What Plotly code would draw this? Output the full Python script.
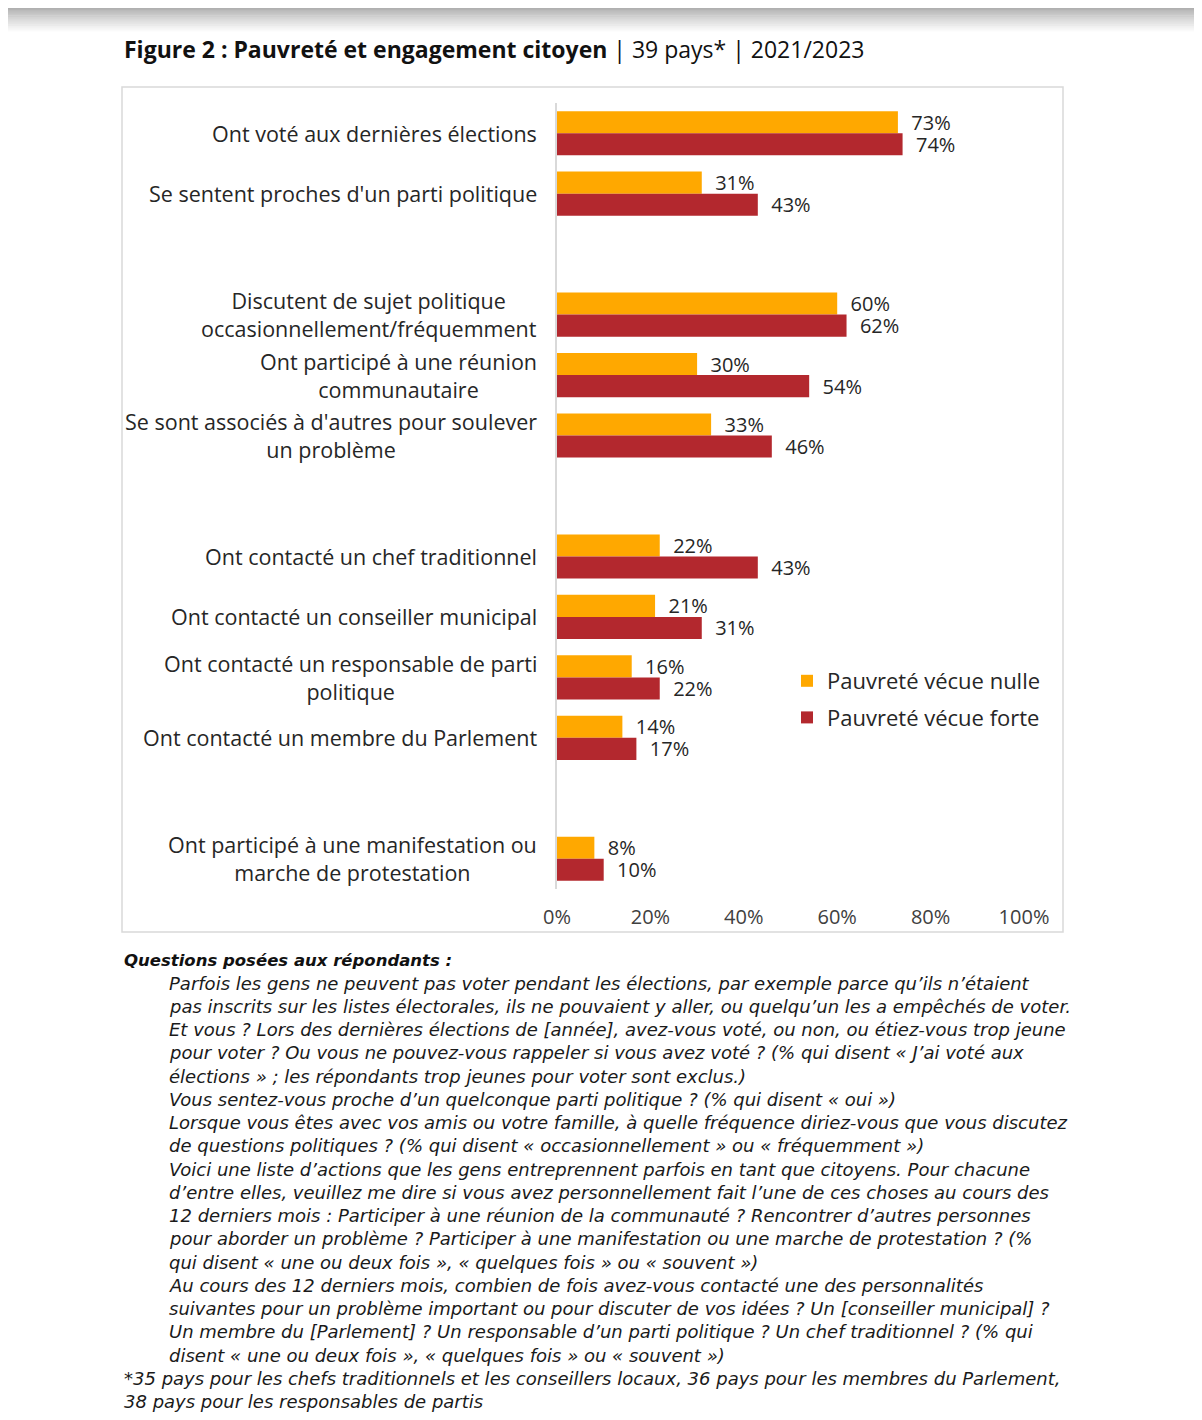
import plotly.graph_objects as go

# ---------------- data ----------------
categories = [
    "Ont voté aux dernières élections",
    "Se sentent proches d'un parti politique",
    "Discutent de sujet politique<br>occasionnellement/fréquemment",
    "Ont participé à une réunion<br>communautaire",
    "Se sont associés à d'autres pour soulever<br>un problème",
    "Ont contacté un chef traditionnel",
    "Ont contacté un conseiller municipal",
    "Ont contacté un responsable de parti<br>politique",
    "Ont contacté un membre du Parlement",
    "Ont participé à une manifestation ou<br>marche de protestation",
]
groups = [1, 1, 2, 2, 2, 3, 3, 3, 3, 4]
pauvrete_nulle = [73, 31, 60, 30, 33, 22, 21, 16, 14, 8]
pauvrete_forte = [74, 43, 62, 54, 46, 43, 31, 22, 17, 10]
series_names = ["Pauvreté vécue nulle", "Pauvreté vécue forte"]
x_ticks = [0, 20, 40, 60, 80, 100]

title_bold = "Figure 2 : Pauvreté et engagement citoyen"
title_rest = " | 39 pays* | 2021/2023"
notes_header = "Questions posées aux répondants :"
notes_body = [
    "Parfois les gens ne peuvent pas voter pendant les élections, par exemple parce qu’ils n’étaient",
    "pas inscrits sur les listes électorales, ils ne pouvaient y aller, ou quelqu’un les a empêchés de voter.",
    "Et vous ? Lors des dernières élections de [année], avez-vous voté, ou non, ou étiez-vous trop jeune",
    "pour voter ? Ou vous ne pouvez-vous rappeler si vous avez voté ? (% qui disent « J’ai voté aux",
    "élections » ; les répondants trop jeunes pour voter sont exclus.)",
    "Vous sentez-vous proche d’un quelconque parti politique ? (% qui disent « oui »)",
    "Lorsque vous êtes avec vos amis ou votre famille, à quelle fréquence diriez-vous que vous discutez",
    "de questions politiques ? (% qui disent « occasionnellement » ou « fréquemment »)",
    "Voici une liste d’actions que les gens entreprennent parfois en tant que citoyens. Pour chacune",
    "d’entre elles, veuillez me dire si vous avez personnellement fait l’une de ces choses au cours des",
    "12 derniers mois : Participer à une réunion de la communauté ? Rencontrer d’autres personnes",
    "pour aborder un problème ? Participer à une manifestation ou une marche de protestation ? (%",
    "qui disent « une ou deux fois », « quelques fois » ou « souvent »)",
    "Au cours des 12 derniers mois, combien de fois avez-vous contacté une des personnalités",
    "suivantes pour un problème important ou pour discuter de vos idées ? Un [conseiller municipal] ?",
    "Un membre du [Parlement] ? Un responsable d’un parti politique ? Un chef traditionnel ? (% qui",
    "disent « une ou deux fois », « quelques fois » ou « souvent »)",
]
notes_footer = [
    "*35 pays pour les chefs traditionnels et les conseillers locaux, 36 pays pour les membres du Parlement,",
    "38 pays pour les responsables de partis",
]

# ---------------- styling ----------------
FONT = "Open Sans"
NOTE_FONT = "DejaVu Sans"
ORANGE = "#FFA800"
RED = "#B3282E"
TXT = "#262626"
OFF = 8                      # default body margin of the page
FW, FH = 1202 - 2 * OFF, 1420 - 2 * OFF
PL, PR, PT, PB = 557, 1024, 103, 889  # plot-area box in page pixels


def px(x):
    return (x - PL) / (PR - PL)


def py(y):
    return (PB - y) / (PB - PT)


# build the axis with blank spacer slots between groups
axis_cats, vals_n, vals_f = [], [], []
spacer = 0
for i, c in enumerate(categories):
    if i > 0 and groups[i] != groups[i - 1]:
        spacer += 1
        axis_cats.append(" " * spacer)
        vals_n.append(None)
        vals_f.append(None)
    axis_cats.append(c)
    vals_n.append(pauvrete_nulle[i])
    vals_f.append(pauvrete_forte[i])


def labels(vals):
    return ["" if v is None else f"\u00a0\u00a0{v}%" for v in vals]


fig = go.Figure()
for name, vals, col in [(series_names[0], vals_n, ORANGE), (series_names[1], vals_f, RED)]:
    fig.add_trace(go.Bar(
        y=axis_cats, x=vals, name=name, orientation="h",
        marker=dict(color=col, line=dict(width=0)),
        text=labels(vals), textposition="outside", constraintext="none",
        textfont=dict(family=FONT, size=20, color=TXT),
        cliponaxis=False, legendgroup=name, hoverinfo="skip",
    ))

fig.update_layout(
    width=FW, height=FH,
    margin=dict(l=PL - OFF, r=FW - (PR - OFF), t=PT - OFF, b=FH - (PB - OFF), pad=0),
    paper_bgcolor="white", plot_bgcolor="white",
    barmode="group", bargap=0.27, bargroupgap=0,
    font=dict(family=FONT, color=TXT),
    showlegend=True,
    legend=dict(
        x=px(787), y=py(660), xanchor="left", yanchor="top",
        font=dict(family=FONT, size=22, color=TXT),
        bgcolor="rgba(0,0,0,0)", tracegroupgap=5,
    ),
    xaxis=dict(
        range=[0, 100], tickmode="array", tickvals=x_ticks,
        ticktext=[f"{v}%" for v in x_ticks],
        showgrid=False, zeroline=False, showline=False, ticks="",
        tickfont=dict(family=FONT, size=20, color="#404040"),
        ticklabelstandoff=14, fixedrange=True,
    ),
    yaxis=dict(
        categoryorder="array", categoryarray=axis_cats, type="category",
        range=[len(axis_cats) - 0.5, -0.5],
        showticklabels=False, ticks="", showgrid=False, zeroline=False,
        showline=True, linecolor="#d9d9d9", linewidth=2,
    ),
)

shapes = []
# top grey shade of the screenshot
n_bands = 14
for k in range(n_bands):
    g = int(176 + (255 - 176) * (k / (n_bands - 1)) ** 0.8)
    shapes.append(dict(type="rect", xref="paper", yref="paper",
                       x0=px(0), x1=px(1202), y0=py(OFF + k * 1.8), y1=py(OFF + (k + 1) * 1.8 + 0.5),
                       fillcolor=f"rgb({g},{g},{g})", line=dict(width=0), layer="below"))
# chart frame
shapes.append(dict(type="rect", xref="paper", yref="paper",
                   x0=px(122), x1=px(1063), y0=py(932), y1=py(87),
                   line=dict(color="#d9d9d9", width=1.5), fillcolor="rgba(0,0,0,0)", layer="below"))
fig.update_layout(shapes=shapes)

ann = []
ann.append(dict(xref="paper", yref="paper", x=px(122), y=py(49), xanchor="left", yanchor="middle",
                text=f"<b>{title_bold}</b>{title_rest}", showarrow=False,
                font=dict(family=FONT, size=23, color="#111111")))
for c in categories:
    ann.append(dict(xref="paper", yref="y", x=0, y=c, xanchor="right", yanchor="middle",
                    xshift=-18, align="center", text=c, showarrow=False,
                    font=dict(family=FONT, size=21.5, color=TXT)))
ann.append(dict(xref="paper", yref="paper", x=px(122), y=py(960), xanchor="left", yanchor="middle",
                text=f"<b><i>{notes_header}</i></b>", showarrow=False,
                font=dict(family=NOTE_FONT, size=16.5, color="#111111")))
for i, line in enumerate(notes_body):
    ann.append(dict(xref="paper", yref="paper", x=px(167), y=py(983 + 23.25 * i),
                    xanchor="left", yanchor="middle", text=f"<i>{line}</i>", showarrow=False,
                    font=dict(family=NOTE_FONT, size=18, color="#1a1a1a")))
for i, line in enumerate(notes_footer):
    ann.append(dict(xref="paper", yref="paper", x=px(122), y=py(1378 + 23.25 * i),
                    xanchor="left", yanchor="middle", text=f"<i>{line}</i>", showarrow=False,
                    font=dict(family=NOTE_FONT, size=18, color="#1a1a1a")))
fig.update_layout(annotations=ann)

fig.write_html("out.html")
